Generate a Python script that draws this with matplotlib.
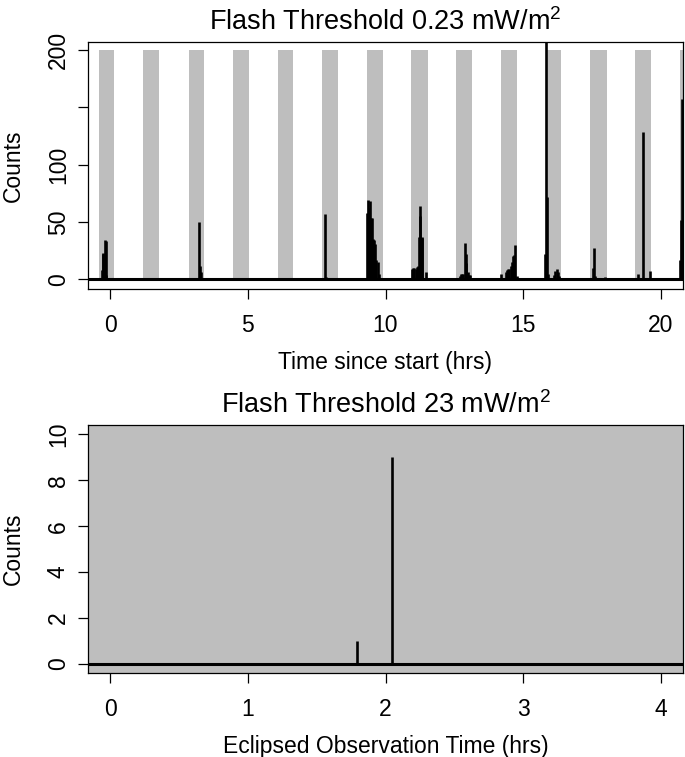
import matplotlib
matplotlib.use("Agg")
import matplotlib.pyplot as plt

plt.rcParams['font.family'] = ['Liberation Sans', 'DejaVu Sans']
plt.rcParams['mathtext.fontset'] = 'custom'
plt.rcParams['mathtext.rm'] = 'Liberation Sans'
plt.rcParams['mathtext.it'] = 'Liberation Sans'

# ---------------- data ----------------
eclipse_start = [-0.41, 1.21, 2.85, 4.45, 6.08, 7.71, 9.33, 10.94, 12.57, 14.21, 15.83, 17.44, 19.07, 20.68]
eclipse_end = [0.13, 1.78, 3.40, 5.03, 6.64, 8.27, 9.91, 11.53, 13.14, 14.76, 16.38, 18.03, 19.63, 21.20]
eclipse_top = 200

top_time = [-0.30, -0.27, -0.24, -0.20, -0.16, -0.13,
            1.62,
            3.24, 3.28, 3.31,
            7.80, 7.85,
            9.34, 9.37, 9.41, 9.44, 9.48, 9.52, 9.55, 9.59, 9.63, 9.67, 9.71, 9.75,
            10.97, 11.01, 11.05, 11.09, 11.13, 11.17, 11.20, 11.24, 11.27, 11.31, 11.34, 11.46,
            12.71, 12.75, 12.79, 12.83, 12.88, 12.91, 12.94, 12.98, 13.02, 13.06,
            14.20, 14.38, 14.42, 14.46, 14.50, 14.54, 14.58, 14.62, 14.66, 14.71, 14.76,
            15.79, 15.83, 15.86, 15.90, 16.13, 16.17, 16.21, 16.25, 16.29,
            17.53, 17.57, 17.61, 17.96,
            19.17, 19.33, 19.59,
            20.69, 20.73, 20.77]
top_counts = [8, 22, 23, 34, 33, 4,
              1,
              50, 12, 6,
              57, 2,
              58, 69, 62, 68, 53, 53, 35, 34, 31, 17, 15, 5,
              9, 10, 10, 9, 11, 12, 37, 64, 55, 37, 36, 6,
              3, 5, 5, 5, 32, 22, 14, 6, 4, 4,
              5, 6, 8, 9, 9, 12, 15, 20, 21, 30, 3,
              22, 230, 72, 5, 4, 7, 9, 6, 3,
              10, 27, 3, 2,
              5, 128, 7,
              17, 52, 157]

bottom_time = [1.79, 2.046]
bottom_counts = [1, 9]

top_xticks = [0, 5, 10, 15, 20]
top_yticks = [0, 50, 100, 150, 200]
top_yticklabels = ["0", "50", "100", "", "200"]
bottom_xticks = [0, 1, 2, 3, 4]
bottom_yticks = [0, 2, 4, 6, 8, 10]

top_title = "Flash Threshold 0.23 mW/m$^2$"
bottom_title = "Flash Threshold 23 mW/m$^2$"
top_xlabel = "Time since start (hrs)"
bottom_xlabel = "Eclipsed Observation Time (hrs)"
ylabel = "Counts"

# ---------------- layout ----------------
W, H = 685, 757
fig = plt.figure(figsize=(W / 100, H / 100), dpi=100)

def px_axes(left, top, right, bottom):
    return fig.add_axes([left / W, 1 - bottom / H, (right - left) / W, (bottom - top) / H])

FS = 16.5
TFS = 19.5
GRAY = "#BEBEBE"

def style(ax, xticks, yticks, yticklabels):
    ax.set_xticks(xticks)
    ax.set_yticks(yticks)
    ax.set_yticklabels(yticklabels, rotation=90, va='center')
    ax.tick_params(direction='out', length=7, width=0.9, labelsize=FS)
    ax.tick_params(axis='x', pad=11)
    ax.tick_params(axis='y', pad=6)
    for s in ax.spines.values():
        s.set_linewidth(0.9)

# top panel
ax1 = px_axes(88, 42.3, 683, 289.3)
ax1.set_xlim(-0.8, 20.8)
ax1.set_ylim(-8.7, 206.5)
for s, e in zip(eclipse_start, eclipse_end):
    ax1.fill_between([s, e], 0, eclipse_top, color=GRAY, linewidth=0, zorder=1)
ax1.axhline(0, color='black', lw=2.2, zorder=3)
ax1.vlines(top_time, 0, top_counts, color='black', lw=1.9, zorder=3)
style(ax1, top_xticks, top_yticks, top_yticklabels)
ax1.set_title(top_title, fontsize=TFS, pad=9)
ax1.set_xlabel(top_xlabel, fontsize=FS, labelpad=10)
ax1.set_ylabel(ylabel, fontsize=FS, labelpad=16)

# bottom panel
ax2 = px_axes(88, 425, 683, 673.3)
ax2.set_xlim(-0.16, 4.16)
ax2.set_ylim(-0.4, 10.4)
ax2.set_facecolor(GRAY)
ax2.axhline(0, color='black', lw=2.2, zorder=3)
ax2.vlines(bottom_time, 0, bottom_counts, color='black', lw=1.9, zorder=3)
style(ax2, bottom_xticks, bottom_yticks, [str(v) for v in bottom_yticks])
ax2.set_title(bottom_title, fontsize=TFS, pad=9)
ax2.set_xlabel(bottom_xlabel, fontsize=FS, labelpad=10)
ax2.set_ylabel(ylabel, fontsize=FS, labelpad=16)

fig.savefig("out.png", dpi=100)
